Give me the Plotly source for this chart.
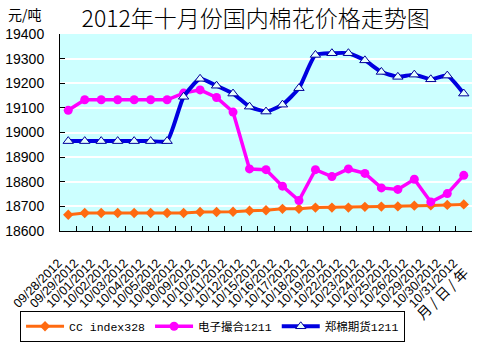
import plotly.graph_objects as go

dates = ["09/28/2012", "09/29/2012", "10/01/2012", "10/02/2012", "10/03/2012",
         "10/04/2012", "10/05/2012", "10/08/2012", "10/09/2012", "10/10/2012",
         "10/11/2012", "10/12/2012", "10/15/2012", "10/16/2012", "10/17/2012",
         "10/18/2012", "10/19/2012", "10/22/2012", "10/23/2012", "10/24/2012",
         "10/25/2012", "10/26/2012", "10/29/2012", "10/30/2012", "10/31/2012"]

cc_index = [18666, 18673, 18673, 18673, 18673, 18673, 18673, 18673, 18677, 18677,
            18678, 18682, 18684, 18690, 18690, 18695, 18695, 18695, 18698, 18699,
            18700, 18703, 18704, 18706, 18708]

dianzi = [19090, 19133, 19133, 19133, 19133, 19133, 19133, 19160, 19173, 19142,
          19083, 18852, 18849, 18782, 18724, 18849, 18821, 18852, 18834, 18775,
          18769, 18810, 18718, 18752, 18826]

zhengmian = [18965, 18965, 18965, 18965, 18965, 18965, 18965, 19145, 19218, 19190,
             19158, 19105, 19085, 19113, 19180, 19315, 19322, 19322, 19293, 19246,
             19226, 19235, 19216, 19231, 19158]

names = ["CC index328", "电子撮合1211", "郑棉期货1211"]
yticks = [18600, 18700, 18800, 18900, 19000, 19100, 19200, 19300, 19400]

font_fam = "Liberation Sans, Noto Sans CJK SC, sans-serif"
cjk = "Noto Sans CJK SC, sans-serif"

fig = go.Figure()
fig.add_trace(go.Scatter(x=dates, y=cc_index, name=names[0], mode="lines+markers",
                         line=dict(color="#FF6A10", width=3),
                         marker=dict(symbol="diamond", size=8, color="#FF6A10")))
fig.add_trace(go.Scatter(x=dates, y=dianzi, name=names[1], mode="lines+markers",
                         line=dict(color="#FF00FF", width=3.5),
                         marker=dict(symbol="circle", size=9, color="#FF00FF")))
fig.add_trace(go.Scatter(x=dates, y=zhengmian, name=names[2], mode="lines+markers",
                         line=dict(color="#0000E0", width=4, shape="spline", smoothing=0.5),
                         marker=dict(symbol="triangle-up", size=9, color="#E6FFFF",
                                     line=dict(color="#000099", width=1))))

fig.update_layout(
    width=478, height=348,
    margin=dict(l=60, r=6, t=34, b=107),
    paper_bgcolor="white",
    plot_bgcolor="#CCFFFF",
    font=dict(family=font_fam, size=13, color="black"),
    title=dict(text="2012年十月份国内棉花价格走势图", x=0.535, xanchor="center",
               y=0.946, yanchor="middle",
               font=dict(family=cjk, size=23, color="black", weight=300)),
    showlegend=True,
    legend=dict(orientation="h", x=-0.097, xanchor="left", y=-0.405, yanchor="top",
                bordercolor="black", borderwidth=1, bgcolor="white",
                font=dict(family="Liberation Mono, Noto Sans CJK SC, monospace", size=11.5),
                itemwidth=38, tracegroupgap=0,
                ),
    xaxis=dict(type="category", tickangle=-45, showgrid=False,
               ticks="inside", ticklen=5, tickson="boundaries", tickcolor="black",
               showline=True, linecolor="black", linewidth=1,
               ticklabelstandoff=19, ticklabelshift=-10,
               tickfont=dict(family="Liberation Sans, sans-serif", size=12.5),
               range=[-0.5, len(dates) - 0.5]),
    yaxis=dict(range=[18600, 19400], tickvals=yticks, tickformat="d", showgrid=True,
               gridcolor="white", gridwidth=2, ticks="inside", ticklen=5,
               tickcolor="black", showline=True, linecolor="black", linewidth=1,
               zeroline=False, ticklabelstandoff=12,
               tickfont=dict(family="Liberation Sans, sans-serif", size=14)),
)

fig.add_annotation(text="元/吨", xref="paper", yref="paper", x=-0.085, y=1.1,
                   xanchor="center", yanchor="middle", showarrow=False,
                   font=dict(family=cjk, size=14))
fig.add_annotation(text="月 / 日 / 年", xref="paper", yref="paper", x=0.927, y=-0.314,
                   xanchor="center", yanchor="middle", showarrow=False, textangle=-45,
                   font=dict(family=cjk, size=14))

fig.write_html("out.html")
